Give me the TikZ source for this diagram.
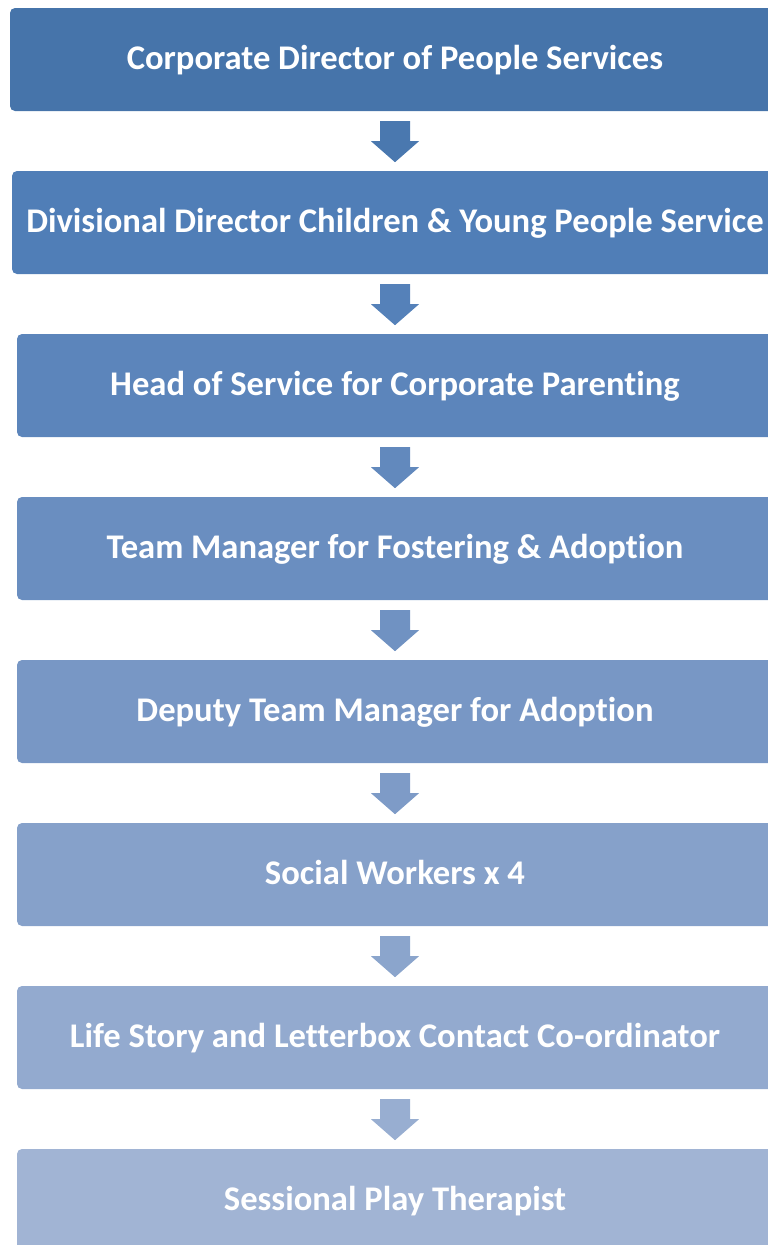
\documentclass[tikz,border=0pt]{standalone}
\usepackage{fontspec}
\setmainfont[Ligatures=NoCommon]{Carlito}
\usetikzlibrary{calc}
\definecolor{c1}{RGB}{70,116,170}
\definecolor{c2}{RGB}{80,126,183}
\definecolor{c3}{RGB}{92,133,187}
\definecolor{c4}{RGB}{106,142,192}
\definecolor{c5}{RGB}{120,151,197}
\definecolor{c6}{RGB}{134,161,202}
\definecolor{c7}{RGB}{147,170,207}
\definecolor{c8}{RGB}{161,180,212}
\tikzset{
  box/.style={rounded corners=5pt, minimum height=103pt, inner sep=0pt,
    text height=19pt, text depth=0pt,
    text=white, font=\bfseries\fontsize{34.6}{40}\selectfont},
}
\newcommand{\downarrowshape}[2]{%
  \fill[#2] ($(#1.south)+(-15pt,-10pt)$) -- ($(#1.south)+(15pt,-10pt)$)
    -- ($(#1.south)+(15pt,-30pt)$) -- ($(#1.south)+(24pt,-30pt)$)
    -- ($(#1.south)+(0pt,-51pt)$) -- ($(#1.south)+(-24pt,-30pt)$)
    -- ($(#1.south)+(-15pt,-30pt)$) -- cycle;}
\begin{document}
\begin{tikzpicture}[x=1pt,y=-1pt]
\useasboundingbox (0,0) rectangle (768,1245);
\clip (0,0) rectangle (768,1245);
\node[box, fill=c1, minimum width=770pt] (b1) at (395,59.5) {Corporate Director of People Services};
\node[box, fill=c2, minimum width=766pt] (b2) at (395,222.5) {Divisional Director Children \& Young People Service};
\node[box, fill=c3, minimum width=756pt] (b3) at (395,385.5) {Head of Service for Corporate Parenting};
\node[box, fill=c4, minimum width=756pt] (b4) at (395,548.5) {Team Manager for Fostering \& Adoption};
\node[box, fill=c5, minimum width=756pt] (b5) at (395,711.5) {Deputy Team Manager for Adoption};
\node[box, fill=c6, minimum width=756pt] (b6) at (395,874.5) {Social Workers x 4};
\node[box, fill=c7, minimum width=756pt] (b7) at (395,1037.5) {Life Story and Letterbox Contact Co-ordinator};
\node[box, fill=c8, minimum width=756pt] (b8) at (395,1200.5) {Sessional Play Therapist};
\downarrowshape{b1}{c1!60!c2}
\downarrowshape{b2}{c2!60!c3}
\downarrowshape{b3}{c3!60!c4}
\downarrowshape{b4}{c4!60!c5}
\downarrowshape{b5}{c5!60!c6}
\downarrowshape{b6}{c6!60!c7}
\downarrowshape{b7}{c7!60!c8}
\end{tikzpicture}
\end{document}
